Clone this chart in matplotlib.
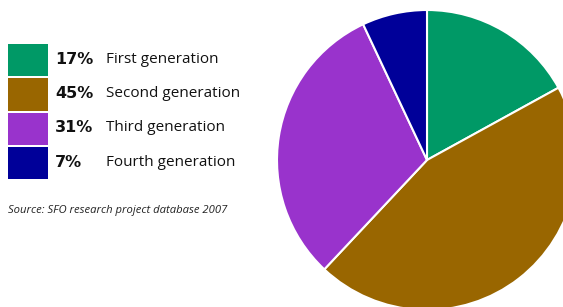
import matplotlib
matplotlib.use("Agg")
import matplotlib.pyplot as plt
from matplotlib.patches import Rectangle

categories = ["First generation", "Second generation", "Third generation", "Fourth generation"]
values = [17, 45, 31, 7]
colors = ["#009966", "#996600", "#9933CC", "#000099"]
source = "Source: SFO research project database 2007"

W, H = 563, 307
fig = plt.figure(figsize=(W / 100, H / 100), dpi=100)

# background overlay axes in pixel coordinates
bg = fig.add_axes([0, 0, 1, 1])
bg.set_xlim(0, W)
bg.set_ylim(H, 0)
bg.axis("off")

# pie axes: center (427,160), radius 150 px
cx, cy, r = 427, 160, 150
pax = fig.add_axes([(cx - r) / W, (H - cy - r) / H, 2 * r / W, 2 * r / H])
pax.pie(values, colors=colors, startangle=90, counterclock=False, radius=1,
        wedgeprops=dict(edgecolor="white", linewidth=1.5))
pax.set_xlim(-1, 1)
pax.set_ylim(-1, 1)
pax.set_aspect("equal")
pax.axis("off")

# legend
top0 = 44
pitch = 34.3
for i, (cat, v, c) in enumerate(zip(categories, values, colors)):
    y0 = top0 + i * pitch
    bg.add_patch(Rectangle((8, y0), 40, pitch - 2, facecolor=c, edgecolor="none"))
    yc = y0 + (pitch - 2) / 2 - 1
    bg.text(55, yc, f"{v}%", fontsize=11.5, fontweight="bold", family="DejaVu Sans",
            va="center", ha="left", color="#111111")
    bg.text(106, yc, cat, fontsize=11, family="Open Sans",
            va="center", ha="left", color="#111111")

bg.text(8, 211, source, fontsize=8.1, style="italic", family="Open Sans",
        va="center", ha="left", color="#222222")

fig.savefig("out.png", dpi=100)
